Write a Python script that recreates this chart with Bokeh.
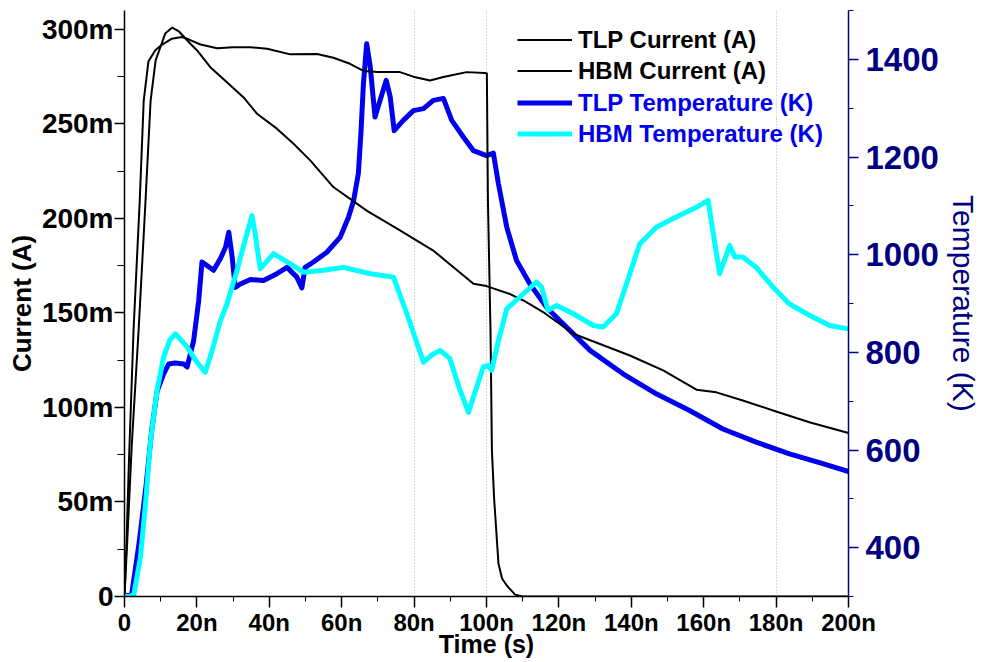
from bokeh.plotting import figure
from bokeh.models import Range1d, LinearAxis, FixedTicker, Legend, LegendItem
from bokeh.embed import file_html
from bokeh.resources import INLINE

# ---------------- data (time in ns, current in mA, temperature in K) ----------------
tlp_current_t = [0, 0.5, 1.2, 2.5, 4.2, 5.3, 6.6, 8.5, 10.4, 13, 15.9, 18, 21, 25.6, 30, 34.8, 39.4,
                 45.8, 53.2, 57.7, 62.3, 66, 70, 76.1, 79.8, 84.4, 88.1, 94.5, 99.6, 100.1, 100.4,
                 101.1, 101.5, 102.1, 103.3, 104.3, 105.6, 107.9, 110, 200]
tlp_current_ma = [0, 25, 70, 141, 209, 262, 283, 289, 292, 295, 296, 294.5, 292, 290, 290.5, 290.6, 289.8,
                  286.8, 287, 285, 281.8, 278, 277.5, 277.4, 275, 273, 274.8, 277.4, 277, 276.7, 209,
                  141, 77, 52, 17.5, 9.5, 5.8, 1, 0, 0]

hbm_current_t = [0, 0.8, 2, 3.9, 5.8, 7.2, 8.6, 11.3, 13.2, 15, 18.2, 20, 23.7, 28.3, 32.9, 36.6, 42.1,
                 46.7, 51.3, 57.7, 67, 76.1, 85.3, 96.4, 100, 106.5, 110.2, 116, 124, 139.6, 148.8,
                 158, 163.5, 170.8, 180, 189.2, 200]
hbm_current_ma = [0, 31, 80, 141, 209, 262, 283.6, 298, 301, 299, 292.4, 289, 280, 272, 264, 255.4, 247.5,
                  239.5, 230.7, 216.6, 204, 193.7, 183, 165.4, 164.2, 160, 156.6, 150, 139, 127.5, 119.6,
                  109.4, 108, 103.7, 97.9, 92.2, 86.5]

tlp_temp_t = [0, 2, 4, 6, 7.5, 9, 10.8, 12.2, 14, 16.4, 17.3, 19.1, 20.5, 21.4, 24.6, 26.5, 27.9,
              28.8, 29.7, 30.6, 32, 34.8, 38.4, 42.1, 44.9, 47.6, 49, 49.9, 52.2, 55.9, 59.6, 61.9,
              63.3, 64.6, 65.3, 66, 66.9, 67.9, 69.2, 70.6, 72.3, 73.4, 74.5, 77, 79.8, 82.6, 85.3,
              88.1, 90.4, 93.6, 96.4, 100, 101.9, 103.3, 105.6, 108.3, 112, 116.6, 123, 128.6,
              137.7, 146.9, 156.1, 165.3, 174.5, 183.7, 192.9, 200]
tlp_temp_k = [300, 305, 408, 530, 640, 720, 756, 776, 778, 776, 770, 824, 906, 985, 968, 992, 1015,
              1046, 998, 933, 940, 949, 947, 961, 974, 954, 932, 974, 985, 1005, 1036, 1077,
              1111, 1166, 1248, 1350, 1432, 1384, 1282, 1316, 1357, 1323, 1254, 1275, 1295, 1299, 1316,
              1320, 1275, 1241, 1213, 1203, 1208, 1145, 1056, 988, 940, 892, 845, 804,
              756, 715, 681, 643, 616, 592, 572, 556]

hbm_temp_t = [0, 1.5, 2.6, 4.4, 5.8, 7.2, 9, 10.8, 12.5, 14.1, 17.3, 20, 22.3, 24.2, 26.5, 28.3,
              31.1, 33.8, 35.2, 36.1, 37.5, 41.2, 44.9, 49.5, 55, 60.5, 67.9, 74.3, 78, 82.6, 85,
              87.2, 89.9, 92.7, 95, 97.3, 99.1, 100.5, 101.4, 103.3, 105.6, 110.2, 113.8, 115.2,
              117, 119.4, 124, 129.5, 132.2, 135.9, 139.6, 142.3, 146.9, 152.4, 158, 161.2, 164.4,
              167.2, 168.6, 170.8, 174.5, 179.1, 183.7, 189.2, 194.8, 200]
hbm_temp_k = [300, 300, 305, 380, 490, 620, 722, 790, 825, 838, 811, 780, 759, 804, 865, 899,
              968, 1043, 1080, 1043, 971, 1002, 985, 964, 968, 974, 961, 954, 879, 780, 795,
              804, 787, 722, 677, 729, 770, 773, 763, 824, 889, 920, 944, 934,
              886, 896, 879, 855, 852, 879, 961, 1022, 1056, 1077, 1097, 1111, 961,
              1019, 995, 995, 974, 934, 899, 876, 855, 848]

x_ticks = [0, 20, 40, 60, 80, 100, 120, 140, 160, 180, 200]
x_tick_labels = ["0", "20n", "40n", "60n", "80n", "100n", "120n", "140n", "160n", "180n", "200n"]
y_ticks = [0, 50, 100, 150, 200, 250, 300]
y_tick_labels = ["0", "50m", "100m", "150m", "200m", "250m", "300m"]
t_ticks = [400, 600, 800, 1000, 1200, 1400]
grid_x = [80, 100, 180]

FONT = "Liberation Sans"
NAVY = "#000080"
BLUE = "#0000ee"
CYAN = "#00ffff"

p = figure(width=982, height=662, x_range=Range1d(0, 200), y_range=Range1d(0, 310),
           output_backend="svg", toolbar_location=None,
           min_border_left=124, min_border_top=10, min_border_right=133, min_border_bottom=66)
p.outline_line_color = None
p.background_fill_color = "white"
p.extra_y_ranges = {"temp": Range1d(300, 1500)}

# lines
r_tlp_t = p.line(tlp_temp_t, tlp_temp_k, y_range_name="temp", line_color=BLUE, line_width=5,
                 line_join="round")
r_tlp_i = p.line(tlp_current_t, tlp_current_ma, line_color="black", line_width=2, line_join="round")
r_hbm_i = p.line(hbm_current_t, hbm_current_ma, line_color="black", line_width=2, line_join="round")
r_hbm_t = p.line(hbm_temp_t, hbm_temp_k, y_range_name="temp", line_color=CYAN, line_width=5,
                 line_join="round")

# grid
p.ygrid.visible = False
p.xgrid.ticker = FixedTicker(ticks=grid_x)
p.xgrid.grid_line_color = "#b8b8b8"
p.xgrid.grid_line_dash = "1 2"
p.xgrid.grid_line_width = 1

# x axis
xa = p.xaxis[0]
xa.ticker = FixedTicker(ticks=x_ticks, minor_ticks=list(range(0, 201, 10)))
xa.major_label_overrides = {t: l for t, l in zip(x_ticks, x_tick_labels)}
xa.axis_label = "Time (s)"
# y axis
ya = p.yaxis[0]
ya.ticker = FixedTicker(ticks=y_ticks, minor_ticks=list(range(0, 311, 25)))
ya.major_label_overrides = {t: l for t, l in zip(y_ticks, y_tick_labels)}
ya.axis_label = "Current (A)"

for ax, tick_out, minor_out, lab_size, ttl_size in [(xa, 11, 5, "24px", "25px"), (ya, 10, 7, "28px", "26px")]:
    ax.axis_line_color = "black"
    ax.axis_line_width = 1.5
    ax.major_tick_line_color = "black"
    ax.minor_tick_line_color = "black"
    ax.major_tick_line_width = 1.5
    ax.major_tick_out = tick_out
    ax.major_tick_in = 0
    ax.minor_tick_out = minor_out
    ax.minor_tick_in = 0
    ax.major_label_text_font = FONT
    ax.major_label_text_font_style = "bold"
    ax.major_label_text_font_size = lab_size
    ax.major_label_text_color = "black"
    ax.major_label_standoff = 1
    ax.axis_label_text_font = FONT
    ax.axis_label_text_font_style = "bold"
    ax.axis_label_text_font_size = ttl_size
    ax.axis_label_text_color = "black"
xa.axis_label_standoff = -9
ya.axis_label_standoff = 2

# right axis
ra = LinearAxis(y_range_name="temp", axis_label="Temperature (K)",
                ticker=FixedTicker(ticks=t_ticks, minor_ticks=list(range(300, 1501, 100))))
ra.axis_line_color = NAVY
ra.axis_line_width = 1.5
ra.major_tick_line_color = NAVY
ra.minor_tick_line_color = NAVY
ra.major_tick_line_width = 1.5
ra.major_tick_out = 10
ra.major_tick_in = 0
ra.minor_tick_out = 5
ra.minor_tick_in = 0
ra.major_label_text_font = FONT
ra.major_label_text_font_style = "bold"
ra.major_label_text_font_size = "33px"
ra.major_label_text_color = NAVY
ra.major_label_standoff = 7
ra.axis_label_text_font = FONT
ra.axis_label_text_font_style = "normal"
ra.axis_label_text_font_size = "30px"
ra.axis_label_text_color = NAVY
ra.axis_label_standoff = 5
p.add_layout(ra, "right")

# legends
def style_legend(leg, color):
    leg.border_line_alpha = 0
    leg.background_fill_alpha = 0
    leg.padding = 0
    leg.spacing = 0
    leg.margin = 0
    leg.label_height = 31
    leg.glyph_height = 31
    leg.glyph_width = 55
    leg.label_standoff = 6
    leg.label_text_font = FONT
    leg.label_text_font_style = "bold"
    leg.label_text_font_size = "24px"
    leg.label_text_color = color
    leg.label_text_baseline = "middle"

leg1 = Legend(items=[LegendItem(label="TLP Current (A)", renderers=[r_tlp_i]),
                     LegendItem(label="HBM Current (A)", renderers=[r_hbm_i])],
              location=(393, 510))
leg2 = Legend(items=[LegendItem(label="TLP Temperature (K)", renderers=[r_tlp_t]),
                     LegendItem(label="HBM Temperature (K)", renderers=[r_hbm_t])],
              location=(393, 447))
style_legend(leg1, "black")
style_legend(leg2, "#0000ee")
p.add_layout(leg1, "center")
p.add_layout(leg2, "center")

open("out.html", "w").write(file_html(p, INLINE))
